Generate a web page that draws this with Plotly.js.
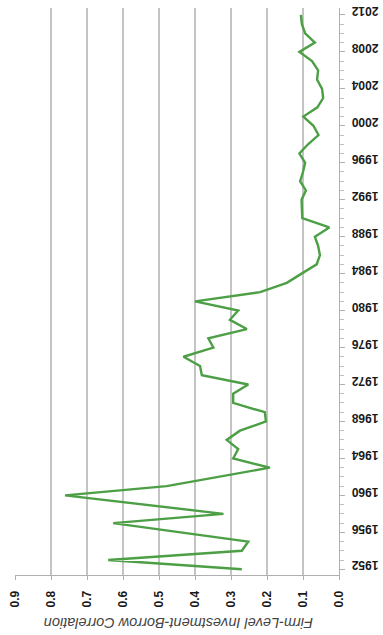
<!DOCTYPE html>
<html>
<head>
<meta charset="utf-8">
<script src="https://cdn.plot.ly/plotly-3.0.1.min.js"></script>
<style>
html,body{margin:0;padding:0;background:#fff;}
#chart{width:383px;height:635px;}
</style>
</head>
<body>
<div id="chart"></div>
<script>
// Data (chart is shown rotated: years run vertically, correlation horizontally)
const years = [1952,1953,1954,1955,1956,1957,1958,1959,1960,1961,1962,1963,1964,1965,1966,1967,1968,1969,1970,1971,1972,1973,1974,1975,1976,1977,1978,1979,1980,1981,1982,1983,1984,1985,1986,1987,1988,1989,1990,1991,1992,1993,1994,1995,1996,1997,1998,1999,2000,2001,2002,2003,2004,2005,2006,2007,2008,2009,2010,2011,2012];
const correlation = [0.270,0.641,0.270,0.252,0.440,0.627,0.321,0.540,0.761,0.479,0.335,0.192,0.294,0.280,0.312,0.275,0.203,0.206,0.294,0.294,0.252,0.381,0.386,0.432,0.349,0.363,0.256,0.303,0.280,0.400,0.219,0.145,0.104,0.062,0.053,0.058,0.067,0.027,0.102,0.103,0.104,0.092,0.108,0.100,0.094,0.110,0.086,0.057,0.071,0.099,0.060,0.044,0.047,0.061,0.058,0.075,0.110,0.067,0.094,0.103,0.106];
const corrTicks = [0,0.1,0.2,0.3,0.4,0.5,0.6,0.7,0.8,0.9];
const corrTickLabels = ['0.0','0.1','0.2','0.3','0.4','0.5','0.6','0.7','0.8','0.9'];
const yearTicks = [1952,1956,1960,1964,1968,1972,1976,1980,1984,1988,1992,1996,2000,2004,2008,2012];
const yearTickLabels = ['1952','1956','1960','1964','1968','1972','1976','1980','1984','1988','1992','1996','2000','2004','2008','2012'];
const axisTitle = 'Firm-Level Investment-Borrow Correlation';

const tickFont = {family:'Liberation Sans Narrow, Arial Narrow, Liberation Sans, sans-serif', size:12, color:'#1a1a1a', weight:'bold'};

const trace = {
  type:'scatter', mode:'lines',
  x: correlation, y: years,
  line:{color:'#4c9f45', width:2.4},
  hoverinfo:'skip'
};

const layout = {
  width:383, height:635,
  margin:{l:15, r:44, t:8, b:60},
  paper_bgcolor:'#fff', plot_bgcolor:'#fff',
  showlegend:false,
  xaxis:{
    range:[0.9, 0], tickvals:corrTicks, ticktext:corrTickLabels,
    tickangle:-90, tickfont:tickFont, ticklabelstandoff:6,
    showgrid:true, gridcolor:'#c4c4c4', gridwidth:1.3,
    zeroline:false, showline:true, linecolor:'#b0b0b0', linewidth:1,
    ticks:'outside', ticklen:4, tickcolor:'#b0b0b0'
  },
  yaxis:{
    range:[1951.38, 2012.75], side:'right',
    tickvals:yearTicks, ticktext:yearTickLabels,
    tickangle:180, tickfont:tickFont, ticklabelstandoff:31,
    showgrid:false, zeroline:false,
    showline:true, linecolor:'#b0b0b0', linewidth:1,
    ticks:'outside', ticklen:5, tickcolor:'#b0b0b0',
    minor:{dtick:1, tick0:1952, ticks:'outside', ticklen:4, tickcolor:'#c0c0c0', showgrid:false}
  },
  annotations:[{
    text:axisTitle, xref:'paper', yref:'paper', x:0.503, y:0,
    yshift:-58, showarrow:false, textangle:180,
    font:{family:'Liberation Sans, Arial, sans-serif', size:14.5, color:'#444', style:'italic'}
  }]
};

Plotly.newPlot('chart', [trace], layout, {staticPlot:true, displayModeBar:false});
</script>
</body>
</html>
